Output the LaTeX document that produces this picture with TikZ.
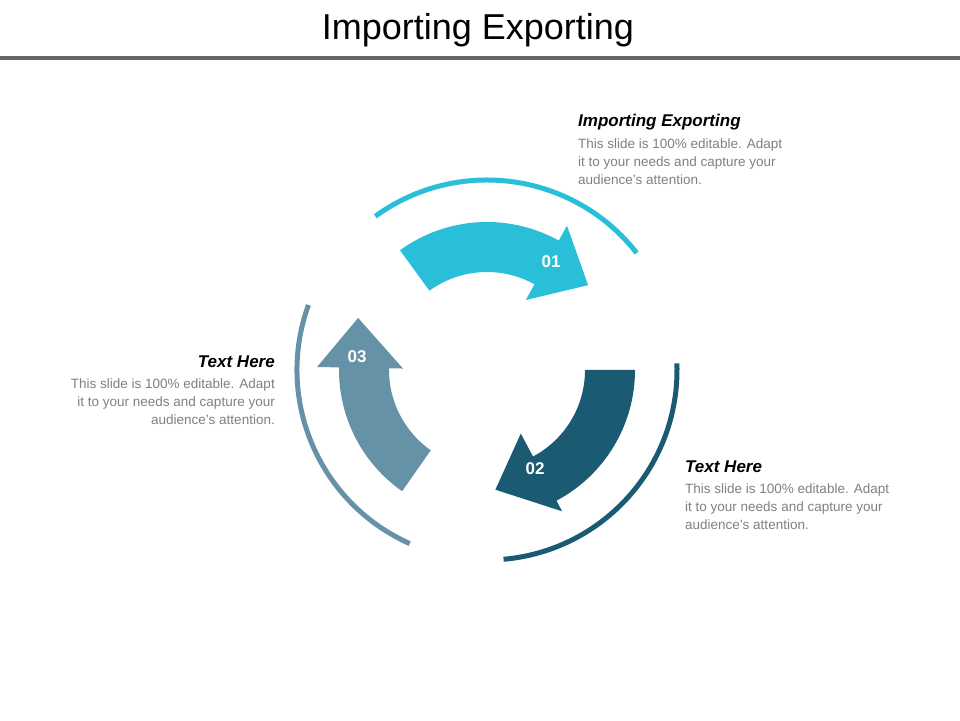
\documentclass[tikz,border=0pt]{standalone}
\usepackage{fontspec}
\setmainfont{Liberation Sans}
\definecolor{cA}{HTML}{29BFD9}
\definecolor{cB}{HTML}{1B5A73}
\definecolor{cC}{HTML}{6692A8}
\definecolor{txt}{HTML}{7F7F7F}
\begin{document}
\begin{tikzpicture}[x=1pt,y=1pt,
  head/.style={font=\fontsize{17}{20}\selectfont\bfseries\itshape},
  body/.style={font=\fontsize{13.5}{18}\selectfont,text=txt,inner sep=0pt},
  num/.style={font=\fontsize{17}{20}\selectfont\bfseries,text=white}]
\useasboundingbox (0,0) rectangle (960,720);
\node[font=\fontsize{36}{40}\selectfont] (title) at (478,690) {Importing Exporting};
\fill[gray!80!black] (0,660) rectangle (960,664);
\begin{scope}[shift={(487,350)}]
\draw[cA,line width=5] (126:190) arc (126:38:190);
\draw[cB,line width=5] (2:190) arc (2:-85:190);
\draw[cC,line width=5] (160:190) arc (160:246:190);
\fill[cA] (126:148) arc (126:61:148) -- (61:165) -- (40:132) -- (61:80) -- (61:98) arc (61:126:98) -- cycle;
\fill[cB] (0:148) arc (0:-62:148) -- (-62:160) -- (-86:120) -- (-62:72) -- (-62:98) arc (-62:0:98) -- cycle;
\fill[cC] (-125:148) arc (-125:-181:148) -- (-181:170) -- (-202:139) -- (-181:84) -- (-181:98) arc (-181:-125:98) -- cycle;
\end{scope}
\node[num] (n1) at (551,458) {01};
\node[num] (n2) at (535,251) {02};
\node[num] (n3) at (357,363) {03};
\node[head,anchor=west,inner sep=0pt] (h1) at (578,598) {Importing Exporting};
\node[body,anchor=north west,align=left] (b1) at (578,581) {This slide is 100\% editable. Adapt\\it to your needs and capture your\\audience's attention.};
\node[head,anchor=east,inner sep=0pt] (h3) at (275,358) {Text Here};
\node[body,anchor=north east,align=right] (b3) at (275,341) {This slide is 100\% editable. Adapt\\it to your needs and capture your\\audience's attention.};
\node[head,anchor=west,inner sep=0pt] (h2) at (685,253) {Text Here};
\node[body,anchor=north west,align=left] (b2) at (685,236) {This slide is 100\% editable. Adapt\\it to your needs and capture your\\audience's attention.};
\end{tikzpicture}
\end{document}
